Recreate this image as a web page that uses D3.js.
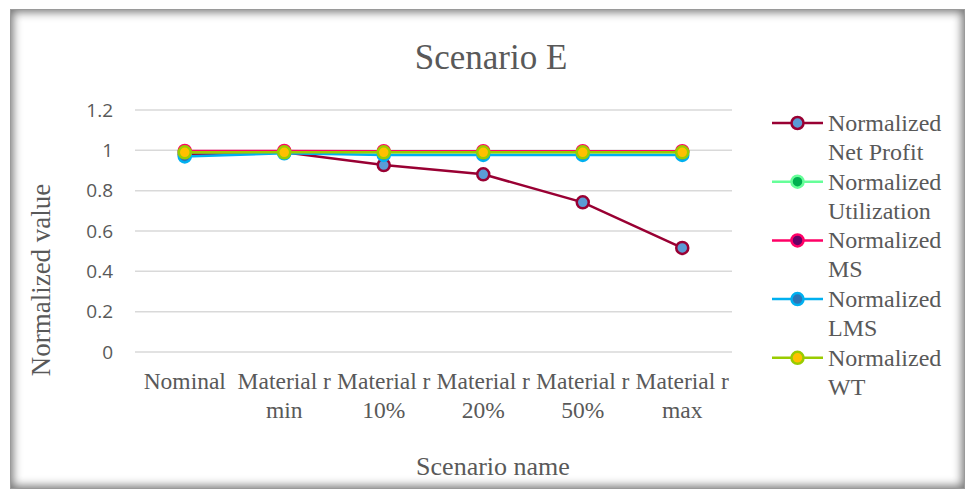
<!DOCTYPE html>
<html>
<head>
<meta charset="utf-8">
<script src="https://cdn.jsdelivr.net/npm/d3@7"></script>
<style>
  body { margin: 0; background: #fff; }
  .frame {
    position: absolute; left: 10px; top: 9px; width: 955px; height: 480px;
    box-shadow: inset 0 0 10px 2px rgba(0,0,0,0.55);
    border: 1px solid #9a9a9a; box-sizing: border-box;
  }
  svg { position: absolute; left: 0; top: 0; }
</style>
</head>
<body>
<div class="frame"></div>
<div id="chart"></div>
<script>
const width = 970;
const height = 490;
const margin = { top: 110, bottom: 138, left: 135, right: 238 };

const categories = [
  ["Nominal"],
  ["Material r", "min"],
  ["Material r", "10%"],
  ["Material r", "20%"],
  ["Material r", "50%"],
  ["Material r", "max"]
];
const yTicks = [0, 0.2, 0.4, 0.6, 0.8, 1, 1.2];

const netProfit   = [0.98, 0.99, 0.927, 0.881, 0.742, 0.516];
const utilization = [0.99, 0.99, 0.99, 0.99, 0.99, 0.99];
const ms          = [0.997, 0.997, 0.996, 0.996, 0.996, 0.996];
const lms         = [0.97, 0.985, 0.977, 0.977, 0.977, 0.977];
const wt          = [0.99, 0.99, 0.99, 0.99, 0.99, 0.99];

const series = [
  { name: ["Normalized", "Net Profit"], values: netProfit, line: "#990033", fill: "#5b9bd5" },
  { name: ["Normalized", "Utilization"], values: utilization, line: "#66ff99", fill: "#00b050" },
  { name: ["Normalized", "MS"], values: ms, line: "#ff0066", fill: "#660066" },
  { name: ["Normalized", "LMS"], values: lms, line: "#00b0f0", fill: "#2e75b6" },
  { name: ["Normalized", "WT"], values: wt, line: "#99cc00", fill: "#ffc000" }
];

const serif = "'Liberation Serif', 'Times New Roman', serif";
const sans = "'Open Sans', 'Liberation Sans', sans-serif";

const svg = d3.select("#chart").append("svg")
  .attr("width", width)
  .attr("height", height);

const escalaX = d3.scaleBand()
  .domain(d3.range(categories.length))
  .range([margin.left, width - margin.right]);

const escalaY = d3.scaleLinear()
  .domain([0, 1.2])
  .range([height - margin.bottom, margin.top]);

// gridlines
svg.append("g")
  .selectAll("line")
  .data(yTicks)
  .join("line")
  .attr("x1", margin.left)
  .attr("x2", width - margin.right)
  .attr("y1", d => escalaY(d))
  .attr("y2", d => escalaY(d))
  .attr("stroke", "#d9d9d9")
  .attr("stroke-width", 1.5);

// y axis labels
const ejeY = d3.axisLeft(escalaY).tickValues(yTicks).tickSize(0).tickPadding(22)
  .tickFormat(d => d3.format("")(+d.toFixed(1)));
svg.append("g")
  .attr("transform", `translate(${margin.left},0)`)
  .call(ejeY)
  .call(g => g.select(".domain").remove())
  .selectAll("text")
  .attr("font-family", sans)
  .attr("font-size", 19)
  .attr("fill", "#595959");

// x axis labels
const ejeX = svg.append("g");
categories.forEach((lines, i) => {
  const t = ejeX.append("text")
    .attr("x", escalaX(i) + escalaX.bandwidth() / 2)
    .attr("y", 389)
    .attr("text-anchor", "middle")
    .attr("font-family", serif)
    .attr("font-size", 23.5)
    .attr("fill", "#595959");
  lines.forEach((l, j) => {
    t.append("tspan")
      .attr("x", escalaX(i) + escalaX.bandwidth() / 2)
      .attr("dy", j === 0 ? 0 : 29)
      .text(l);
  });
});

// titles
svg.append("text")
  .attr("x", 491).attr("y", 69)
  .attr("text-anchor", "middle")
  .attr("font-family", serif)
  .attr("font-size", 35)
  .attr("fill", "#595959")
  .text("Scenario E");

svg.append("text")
  .attr("x", 493).attr("y", 475)
  .attr("text-anchor", "middle")
  .attr("font-family", serif)
  .attr("font-size", 26)
  .attr("fill", "#595959")
  .text("Scenario name");

svg.append("text")
  .attr("transform", `translate(50,280) rotate(-90)`)
  .attr("text-anchor", "middle")
  .attr("font-family", serif)
  .attr("font-size", 27)
  .attr("fill", "#595959")
  .text("Normalized value");

// lines
const cx = i => escalaX(i) + escalaX.bandwidth() / 2;
const line = d3.line()
  .x((d, i) => cx(i))
  .y(d => escalaY(d));

const lineas = svg.append("g");
series.forEach(s => {
  const g = lineas.append("g");
  g.append("path")
    .attr("d", line(s.values))
    .attr("fill", "none")
    .attr("stroke", s.line)
    .attr("stroke-width", 2.5);
  g.selectAll("circle")
    .data(s.values)
    .join("circle")
    .attr("cx", (d, i) => cx(i))
    .attr("cy", d => escalaY(d))
    .attr("r", 6)
    .attr("fill", s.fill)
    .attr("stroke", s.line)
    .attr("stroke-width", 2.5);
});

// legend
const legend = svg.append("g").attr("transform", "translate(772,0)");
series.forEach((s, i) => {
  const y = 123 + i * 58.7;
  const g = legend.append("g").attr("transform", `translate(0,${y})`);
  g.append("line")
    .attr("x1", 0).attr("x2", 51)
    .attr("stroke", s.line)
    .attr("stroke-width", 2.5);
  g.append("circle")
    .attr("cx", 25.5).attr("r", 6)
    .attr("fill", s.fill)
    .attr("stroke", s.line)
    .attr("stroke-width", 2.5);
  const t = g.append("text")
    .attr("x", 56)
    .attr("y", 8)
    .attr("font-family", serif)
    .attr("font-size", 24)
    .attr("fill", "#595959");
  s.name.forEach((l, j) => {
    t.append("tspan").attr("x", 56).attr("dy", j === 0 ? 0 : 29).text(l);
  });
});
</script>
</body>
</html>
